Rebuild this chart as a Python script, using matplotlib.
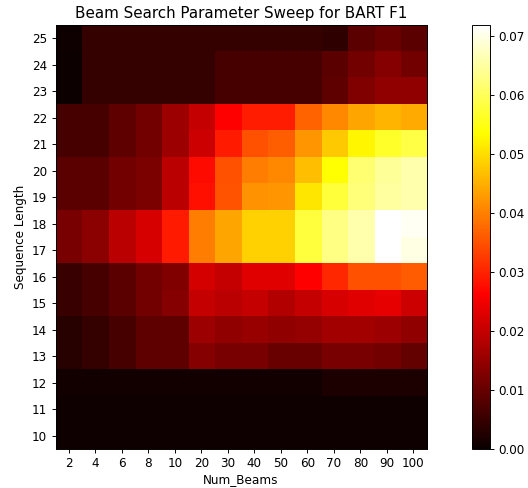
import matplotlib
matplotlib.use("Agg")
import matplotlib.pyplot as plt
import numpy as np

num_beams = [2, 4, 6, 8, 10, 20, 30, 40, 50, 60, 70, 80, 90, 100]
seq_lengths = list(range(10, 26))

# BART F1 per (sequence length, num_beams); rows from length 10 up to 25
f1_10 = [0.0008] * 14
f1_11 = [0.0008] * 14
f1_12 = [0.001] * 10 + [0.002] * 4
f1_13 = [0.0031, 0.0046, 0.0067, 0.0092, 0.0092, 0.0134, 0.0118, 0.0118, 0.0103, 0.0103, 0.0118, 0.0118, 0.0113, 0.0098]
f1_14 = [0.0031, 0.0046, 0.0067, 0.0092, 0.0092, 0.0159, 0.0144, 0.0154, 0.0144, 0.0149, 0.0164, 0.0164, 0.0159, 0.0144]
f1_15 = [0.0051, 0.0067, 0.0087, 0.0113, 0.0134, 0.0200, 0.0190, 0.0200, 0.0180, 0.0200, 0.0221, 0.0231, 0.0236, 0.0210]
f1_16 = [0.0051, 0.0067, 0.0087, 0.0113, 0.0128, 0.0216, 0.0200, 0.0231, 0.0231, 0.0262, 0.0305, 0.0348, 0.0348, 0.0359]
f1_17 = [0.0118, 0.0139, 0.0190, 0.0221, 0.0289, 0.0396, 0.0440, 0.0487, 0.0487, 0.0579, 0.0629, 0.0658, 0.0718, 0.0697]
f1_18 = [0.0118, 0.0139, 0.0190, 0.0221, 0.0289, 0.0396, 0.0440, 0.0487, 0.0487, 0.0579, 0.0629, 0.0658, 0.0718, 0.0708]
f1_19 = [0.0087, 0.0087, 0.0113, 0.0123, 0.0190, 0.0278, 0.0353, 0.0418, 0.0423, 0.0509, 0.0575, 0.0622, 0.0650, 0.0658]
f1_20 = [0.0087, 0.0087, 0.0113, 0.0123, 0.0190, 0.0273, 0.0348, 0.0396, 0.0407, 0.0466, 0.0536, 0.0615, 0.0643, 0.0658]
f1_21 = [0.0067, 0.0067, 0.0092, 0.0113, 0.0159, 0.0210, 0.0289, 0.0348, 0.0364, 0.0423, 0.0477, 0.0525, 0.0564, 0.0586]
f1_22 = [0.0067, 0.0067, 0.0092, 0.0113, 0.0159, 0.0200, 0.0262, 0.0294, 0.0294, 0.0369, 0.0407, 0.0440, 0.0455, 0.0445]
f1_23 = [0.0005, 0.0046, 0.0046, 0.0046, 0.0046, 0.0046, 0.0067, 0.0067, 0.0067, 0.0067, 0.0092, 0.0128, 0.0144, 0.0144]
f1_24 = [0.0005, 0.0046, 0.0046, 0.0046, 0.0046, 0.0046, 0.0067, 0.0067, 0.0067, 0.0067, 0.0087, 0.0113, 0.0134, 0.0113]
f1_25 = [0.0008, 0.0046, 0.0046, 0.0046, 0.0046, 0.0046, 0.0046, 0.0046, 0.0046, 0.0046, 0.0040, 0.0087, 0.0103, 0.0087]

grid = np.array([f1_10, f1_11, f1_12, f1_13, f1_14, f1_15, f1_16, f1_17,
                 f1_18, f1_19, f1_20, f1_21, f1_22, f1_23, f1_24, f1_25])

dpi = 86
fig = plt.figure(figsize=(528 / dpi, 488 / dpi), dpi=dpi)
ax = fig.add_axes([0.104, 0.080, 0.705, 0.869])
cax = fig.add_axes([0.894, 0.080, 0.034, 0.869])

im = ax.imshow(grid, cmap="hot", origin="lower", vmin=0, vmax=grid.max())
ax.set_xticks(range(len(num_beams)))
ax.set_xticklabels(num_beams)
ax.set_yticks(range(len(seq_lengths)))
ax.set_yticklabels(seq_lengths)
ax.set_xlabel("Num_Beams", labelpad=2)
ax.set_ylabel("Sequence Length")
ax.set_title("Beam Search Parameter Sweep for BART F1", fontsize=12.7)

fig.colorbar(im, cax=cax)

fig.savefig("out.png", dpi=dpi)
